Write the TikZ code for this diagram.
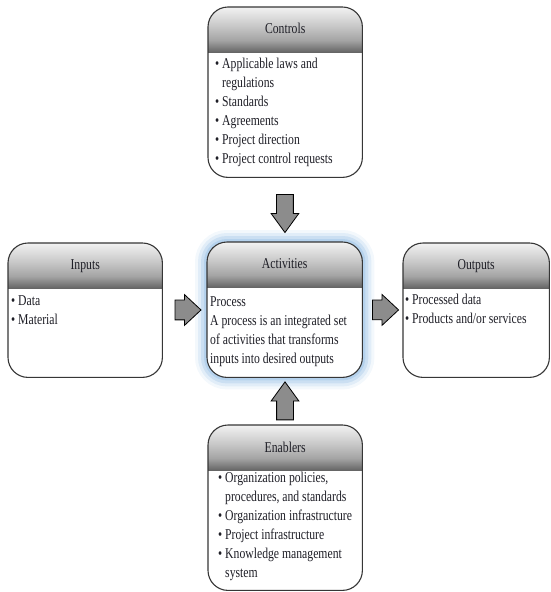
\documentclass[tikz,border=0pt]{standalone}
\usepackage{fontspec}
\setmainfont[FakeStretch=0.78]{Liberation Serif}
\usepackage{tikz}
\usetikzlibrary{backgrounds,calc,shapes.arrows}
\definecolor{IPOInk}{HTML}{1E1E26}
\definecolor{IPOEdge}{HTML}{363636}
\definecolor{IPOHeadTop}{HTML}{F2F2F2}
\definecolor{IPOHeadMid}{HTML}{CACACA}
\definecolor{IPOHeadLow}{HTML}{A4A4A4}
\definecolor{IPOHeadBot}{HTML}{666666}
\definecolor{IPOGlow}{HTML}{A9CBEA}
\definecolor{IPOArrow}{HTML}{8C8C8C}
\pgfdeclareverticalshading{panelhead}{100bp}{%
  color(0bp)=(IPOHeadBot); color(25bp)=(IPOHeadBot); color(38bp)=(IPOHeadLow);
  color(55bp)=(IPOHeadMid); color(75bp)=(IPOHeadTop); color(100bp)=(IPOHeadTop)}
\newcommand{\bul}{\textbullet\ }
\newcommand{\bulgap}{\phantom{\textbullet\ }}
\tikzset{
  panel/.style={
    rounded corners=20pt,
    fill=white,
    inner sep=0pt,
    anchor=north west
  },
  paneledge/.style={rounded corners=20pt,draw=IPOEdge,line width=1.1pt},
  paneltitle/.style={
    font=\fontsize{15}{19}\selectfont,
    text=IPOInk,
    inner sep=0pt,
    anchor=base
  },
  % multi-line nodes: base is the last line
  panellist/.style={
    font=\fontsize{15}{19}\selectfont,
    text=IPOInk,
    align=left,
    inner sep=0pt,
    anchor=base west
  },
  blockarrow/.style={
    single arrow,
    draw=black,
    fill=IPOArrow,
    line width=.8pt,
    inner xsep=0pt,
    text height=0pt,
    text depth=0pt,
    single arrow head indent=0pt
  },
  vblock/.style={blockarrow,inner ysep=8pt,minimum height=38pt,
    single arrow head extend=5.5pt,single arrow tip angle=72},
  hblock/.style={blockarrow,inner ysep=9.5pt,minimum height=26pt,
    single arrow head extend=5.5pt,single arrow tip angle=86}
}

\begin{document}
\begin{tikzpicture}[x=1pt,y=-1pt]
  \useasboundingbox (0,0) rectangle (551,592);

  % The five panels of the process model.
  \node[panel,minimum width=154pt,minimum height=170pt] (ctrl) at (208,7)   {};
  \node[panel,minimum width=154pt,minimum height=134pt] (inp)  at (8,243)   {};
  \node[panel,minimum width=155pt,minimum height=135pt] (act)  at (207,242) {};
  \node[panel,minimum width=146pt,minimum height=134pt] (outp) at (403,243) {};
  \node[panel,minimum width=154pt,minimum height=165pt] (enab) at (208,425) {};

  % Shaded header strip, then the outline.
  \foreach \p in {ctrl,inp,act,outp,enab} {
    \begin{scope}
      \clip[rounded corners=20pt] (\p.north west) rectangle (\p.south east);
      \shade[shading=panelhead] (\p.north west) rectangle ([yshift=-45pt]\p.north east);
    \end{scope}
    \draw[paneledge] (\p.north west) rectangle (\p.south east);
  }

  \begin{scope}[on background layer]
    \foreach \w/\o in {24/.14,18/.24,12/.4,6/.65}
      \draw[IPOGlow,line width=\w pt,opacity=\o,rounded corners=20pt]
        (act.north west) rectangle (act.south east);
  \end{scope}

  \node[paneltitle] (ctrl-t) at ([yshift=-26pt]ctrl.north) {Controls};
  \node[paneltitle] (inp-t)  at ([yshift=-26pt]inp.north)  {Inputs};
  \node[paneltitle] (act-t)  at ([yshift=-26pt]act.north)  {Activities};
  \node[paneltitle] (outp-t) at ([yshift=-26pt]outp.north) {Outputs};
  \node[paneltitle] (enab-t) at ([yshift=-27pt]enab.north) {Enablers};

  \node[panellist] (ctrl-l) at (215,163) {\bul Applicable laws and\\\bulgap regulations\\\bul Standards\\\bul Agreements\\\bul Project direction\\\bul Project control requests};
  \node[panellist] (inp-l)  at (11,324)  {\bul Data\\\bul Material};
  \node[panellist] (act-l)  at (210,363) {Process\\A process is an integrated set\\of activities that transforms\\inputs into desired outputs};
  \node[panellist] (outp-l) at (405,323) {\bul Processed data\\\bul Products and/or services};
  \node[panellist] (enab-l) at (218,577) {\bul Organization policies,\\\bulgap procedures, and standards\\\bul Organization infrastructure\\\bul Project infrastructure\\\bul Knowledge management\\\bulgap system};

  % Block arrows into and out of the activities.
  \path (ctrl.south) -- (act.north) node[vblock,rotate=-90,pos=.47] (a-ctrl) {};
  \path (enab.north) -- (act.south) node[vblock,rotate=90,pos=.385] (a-enab) {};
  \path (inp.east)   -- (act.west)  node[hblock,pos=.455] (a-inp)  {};
  \path (act.east)   -- (outp.west) node[hblock,pos=.44]  (a-outp) {};
\end{tikzpicture}
\end{document}
